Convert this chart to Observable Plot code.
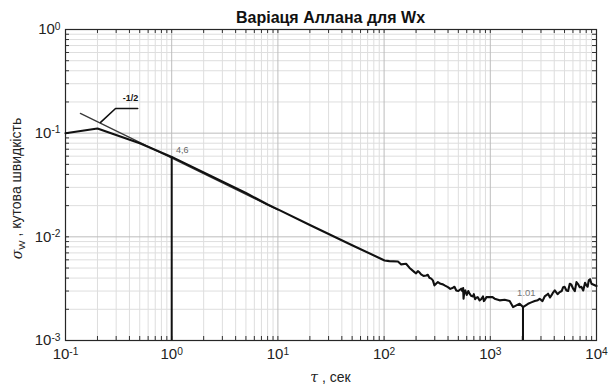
<!DOCTYPE html>
<html>
<head>
<meta charset="utf-8">
<script src="https://cdn.jsdelivr.net/npm/d3@7"></script>
<script src="https://cdn.jsdelivr.net/npm/@observablehq/plot@0.6"></script>
<style>
  html, body { margin: 0; padding: 0; background: #fff; }
  #chart { width: 608px; height: 385px; }
</style>
</head>
<body>
<div id="chart"></div>
<script>
// ---- data ----
const curveTau = [0.1, 0.2, 0.5, 1, 2, 5, 8, 10, 20, 50,
  101, 112, 135, 145, 161, 173, 193, 200, 208, 215, 223, 235, 249, 258, 267, 278, 288, 298,
  310, 321, 340, 358, 375, 399, 420, 445, 460, 478, 500, 532, 545, 555, 560, 570, 581, 600,
  620, 638, 660, 687, 700, 720, 738, 760, 793, 820, 853, 870, 884, 920, 985, 1050, 1099,
  1224, 1365, 1521, 1637, 1758, 1889, 2033, 2268, 2400, 2618, 2800, 2917, 3100, 3252, 3400,
  3499, 3650, 3760, 3900, 4045, 4300, 4508, 4700, 4853, 5000, 5213, 5400, 5601, 5800, 6026,
  6250, 6475, 6700, 6955, 7200, 7499, 7800, 8054, 8250, 8456, 8700, 8971, 9400, 10000];
const curveSigma = [0.100, 0.111, 0.080, 0.059, 0.0418, 0.0265, 0.0205, 0.0184, 0.0130, 0.0083,
  0.00592, 0.00583, 0.00579, 0.00542, 0.00550, 0.00504, 0.00457, 0.00445, 0.00467, 0.00455, 0.00434, 0.00420, 0.00424, 0.00430, 0.00403, 0.00395, 0.00380, 0.00340,
  0.00355, 0.00366, 0.00352, 0.00348, 0.00338, 0.00327, 0.00315, 0.00323, 0.00330, 0.00304, 0.00300, 0.00316, 0.00300, 0.00320, 0.00253, 0.00300, 0.00304, 0.00275,
  0.00300, 0.00283, 0.00270, 0.00266, 0.00280, 0.00250, 0.00259, 0.00262, 0.00244, 0.00250, 0.00266, 0.00240, 0.00244, 0.00262, 0.00262, 0.00262, 0.00253,
  0.00244, 0.00247, 0.00240, 0.00210, 0.00218, 0.00226, 0.00210, 0.00226, 0.00232, 0.00240, 0.00245, 0.00253, 0.00240, 0.00266, 0.00275,
  0.00283, 0.00260, 0.00272, 0.00290, 0.00304, 0.00280, 0.00293, 0.00300, 0.00327, 0.00330, 0.00304, 0.00300, 0.00353, 0.00345, 0.00316,
  0.00300, 0.00366, 0.00350, 0.00327, 0.00330, 0.00304, 0.00360, 0.00340, 0.00330, 0.00380, 0.00390, 0.00353, 0.00345, 0.00335];

// -1/2 slope reference line
const refTau = [0.138, 10];
const refSigma = [0.155, 0.0182];

// leader line for the "-1/2" note
const leaderTau = [0.214, 0.296, 0.478];
const leaderSigma = [0.127, 0.173, 0.173];

// vertical markers
const markerTau = [1, 2033];
const markerSigma = [0.059, 0.0021];

// notes
const notes = [
  {tau: 0.41, sigma: 0.216, text: "-1/2", bold: true, anchor: "middle"},
  {tau: 1.1, sigma: 0.068, text: "4,6", bold: false, anchor: "start"},
  {tau: 2185, sigma: 0.00285, text: "1.01", bold: false, anchor: "middle"}
];

const xMajor = [0.1, 1, 10, 100, 1000, 10000];
const yMajor = [0.001, 0.01, 0.1, 1];
const multiples = [2, 3, 4, 5, 6, 7, 8, 9];
const xMinor = xMajor.slice(0, -1).flatMap(d => multiples.map(m => d * m));
const yMinor = yMajor.slice(0, -1).flatMap(d => multiples.map(m => d * m));

const title = "Варіаця Аллана для Wx";
const xLabel = ", сек";
const yLabel = ", кутова швидкість";

// ---- chart ----
const curve = curveTau.map((t, i) => ({tau: t, sigma: curveSigma[i]}));
const ref = refTau.map((t, i) => ({tau: t, sigma: refSigma[i]}));
const leader = leaderTau.map((t, i) => ({tau: t, sigma: leaderSigma[i]}));
const markers = markerTau.map((t, i) => ({tau: t, sigma: markerSigma[i]}));

const W = 608, H = 385, mT = 29, mR = 12, mB = 45, mL = 65;
const ph = H - mT - mB, pw = W - mL - mR;

const plot = Plot.plot({
  width: W, height: H,
  marginTop: mT, marginRight: mR, marginBottom: mB, marginLeft: mL,
  style: {fontFamily: "'Liberation Sans', Arial, sans-serif", background: "#fff", overflow: "visible"},
  x: {type: "log", domain: [0.1, 10000]},
  y: {type: "log", domain: [0.001, 1]},
  marks: [
    Plot.ruleX(xMinor, {stroke: "#dedede", strokeWidth: 1}),
    Plot.ruleY(yMinor, {stroke: "#dedede", strokeWidth: 1}),
    Plot.ruleX(xMajor, {stroke: "#bdbdbd", strokeWidth: 1}),
    Plot.ruleY(yMajor, {stroke: "#bdbdbd", strokeWidth: 1}),
    // inward ticks
    Plot.ruleX(xMajor.concat(xMinor), {insetTop: ph - 4, stroke: "#333"}),
    Plot.ruleX(xMajor.concat(xMinor), {insetBottom: ph - 4, stroke: "#333"}),
    Plot.ruleY(yMajor.concat(yMinor), {insetLeft: pw - 4, stroke: "#333"}),
    Plot.ruleY(yMajor.concat(yMinor), {insetRight: pw - 4, stroke: "#333"}),
    Plot.frame({stroke: "#262626", strokeWidth: 1.2}),
    Plot.line(ref, {x: "tau", y: "sigma", stroke: "#3a3a3a", strokeWidth: 1.3}),
    Plot.line(curve, {x: "tau", y: "sigma", stroke: "#111", strokeWidth: 2.1}),
    Plot.ruleX(markers, {x: "tau", y1: 0.001, y2: "sigma", stroke: "#111", strokeWidth: 2}),
    Plot.line(leader, {x: "tau", y: "sigma", stroke: "#111", strokeWidth: 1.6}),
    Plot.text(notes.filter(d => d.bold), {x: "tau", y: "sigma", text: "text", fontSize: 9, fontWeight: "bold", fill: "#111", textAnchor: "middle"}),
    Plot.text(notes.filter(d => !d.bold && d.anchor === "start"), {x: "tau", y: "sigma", text: "text", fontSize: 9, fill: "#666", textAnchor: "start"}),
    Plot.text(notes.filter(d => !d.bold && d.anchor === "middle"), {x: "tau", y: "sigma", text: "text", fontSize: 9.5, fill: "#777", textAnchor: "middle"}),
    Plot.axisX({ticks: xMajor, tickSize: 0, tickPadding: 8, fontSize: 15, label: null,
      tickFormat: d => String(Math.round(Math.log10(d))), fill: "#222"}),
    Plot.axisY({ticks: yMajor, tickSize: 0, tickPadding: 5, fontSize: 15, label: null,
      tickFormat: d => String(Math.round(Math.log10(d))), fill: "#222"})
  ]
});

document.getElementById("chart").appendChild(plot);

// superscript exponents on tick labels
const svg = d3.select(plot);
svg.selectAll('g[aria-label="x-axis tick label"] text, g[aria-label="y-axis tick label"] text').each(function () {
  const t = d3.select(this);
  const e = t.text();
  t.text(null);
  t.append("tspan").text("10");
  t.append("tspan").attr("dy", "-0.45em").attr("font-size", "0.68em").text(e);
});

// title
svg.append("text")
  .attr("x", mL + pw / 2).attr("y", 23)
  .attr("text-anchor", "middle")
  .attr("font-size", 16).attr("font-weight", "bold").attr("fill", "#111")
  .text(title);

// x label
const xl = svg.append("text")
  .attr("x", mL + pw / 2).attr("y", 382)
  .attr("text-anchor", "middle").attr("font-size", 14).attr("fill", "#222");
xl.append("tspan").attr("font-style", "italic").attr("font-family", "'DejaVu Serif', serif").text("τ");
xl.append("tspan").text(" " + xLabel);

// y label
const yl = svg.append("text")
  .attr("transform", `translate(22,${mT + ph / 2 + 4}) rotate(-90)`)
  .attr("text-anchor", "middle").attr("font-size", 14).attr("fill", "#222");
yl.append("tspan").attr("font-style", "italic").attr("font-family", "'DejaVu Serif', serif").text("σ");
yl.append("tspan").attr("dy", "0.35em").attr("font-size", "0.7em").text("W");
yl.append("tspan").attr("dy", "-0.35em").text(" " + yLabel);
</script>
</body>
</html>
